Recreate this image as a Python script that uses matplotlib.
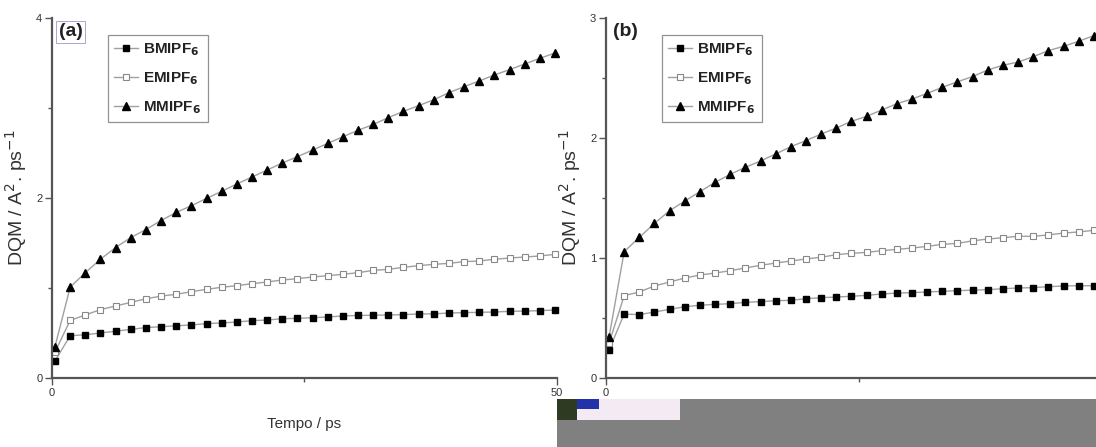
import numpy as np
import matplotlib.pyplot as plt
from matplotlib.patches import Rectangle

plt.rcParams['font.family'] = ['Liberation Sans', 'DejaVu Sans']

# time grid (ps), one point every 1.5 ps
tempo = 0.3 + 1.5 * np.arange(34)

# panel (a)
bm_a = [0.19, 0.47, 0.48, 0.50, 0.52, 0.54, 0.56, 0.57, 0.58, 0.59,
        0.604, 0.611, 0.622, 0.637, 0.644, 0.659, 0.663, 0.670, 0.678, 0.689,
        0.695, 0.697, 0.700, 0.704, 0.711, 0.713, 0.722, 0.726, 0.730, 0.733,
        0.741, 0.744, 0.748, 0.756]
em_a = [0.29, 0.64, 0.70, 0.76, 0.80, 0.84, 0.88, 0.91, 0.93, 0.959,
        0.985, 1.008, 1.026, 1.048, 1.067, 1.089, 1.104, 1.122, 1.137, 1.152,
        1.170, 1.196, 1.207, 1.230, 1.248, 1.263, 1.274, 1.293, 1.300, 1.319,
        1.333, 1.344, 1.356, 1.374]
mm_a = [0.35, 1.01, 1.17, 1.32, 1.45, 1.56, 1.65, 1.75, 1.84, 1.914,
        1.996, 2.074, 2.156, 2.233, 2.311, 2.389, 2.459, 2.533, 2.607, 2.681,
        2.752, 2.817, 2.893, 2.963, 3.026, 3.092, 3.170, 3.237, 3.300, 3.367,
        3.426, 3.489, 3.552, 3.611]

# panel (b)
bm_b = [0.233, 0.533, 0.528, 0.550, 0.572, 0.594, 0.606, 0.614, 0.619, 0.631,
        0.636, 0.644, 0.647, 0.661, 0.669, 0.675, 0.681, 0.689, 0.700, 0.708,
        0.711, 0.717, 0.722, 0.728, 0.732, 0.736, 0.744, 0.750, 0.753, 0.761,
        0.767, 0.769, 0.769, 0.775]
em_b = [0.289, 0.686, 0.717, 0.767, 0.800, 0.833, 0.858, 0.875, 0.894, 0.917,
        0.939, 0.958, 0.975, 0.992, 1.006, 1.028, 1.039, 1.047, 1.061, 1.072,
        1.083, 1.097, 1.114, 1.122, 1.143, 1.158, 1.169, 1.181, 1.181, 1.192,
        1.208, 1.217, 1.231, 1.240]
mm_b = [0.339, 1.053, 1.172, 1.289, 1.394, 1.475, 1.553, 1.631, 1.697, 1.756,
        1.808, 1.867, 1.928, 1.978, 2.033, 2.083, 2.139, 2.181, 2.233, 2.286,
        2.325, 2.372, 2.422, 2.469, 2.512, 2.567, 2.606, 2.633, 2.678, 2.728,
        2.764, 2.806, 2.853, 2.890]

nomes = ['BMIPF$_\\mathbf{6}$', 'EMIPF$_\\mathbf{6}$', 'MMIPF$_\\mathbf{6}$']
ylabel = 'DQM / A$^2$. ps$^{-1}$'

W, H = 1096, 447
fig = plt.figure(figsize=(W / 100, H / 100), dpi=100)


def px_axes(x0, x1, y0, y1):
    return fig.add_axes([x0 / W, 1 - y1 / H, (x1 - x0) / W, (y1 - y0) / H])


def painel(ax, series, ymax, yticks, yminor, xticks, letra, boxed):
    estilos = [dict(marker='s', mfc='black', mec='black', ms=4.5),
               dict(marker='s', mfc='white', mec='#888888', ms=4.5, mew=0.8),
               dict(marker='^', mfc='black', mec='black', ms=5.5)]
    for ys, nome, st in zip(series, nomes, estilos):
        ax.plot(tempo, ys, color='#a0a0a0', lw=1.0, label=nome, clip_on=False, **st)
    ax.set_xlim(0, 50)
    ax.set_ylim(0, ymax)
    for s in ('top', 'right'):
        ax.spines[s].set_visible(False)
    for s in ('left', 'bottom'):
        ax.spines[s].set_color('#555555')
        ax.spines[s].set_linewidth(1.6)
    ax.set_xticks(xticks)
    ax.set_xticks([25], minor=True)
    ax.set_yticks(yticks)
    ax.set_yticks(yminor, minor=True)
    ax.tick_params(which='both', direction='out', color='#555555', labelsize=8,
                   labelcolor='#333333', pad=2)
    ax.tick_params(which='major', length=5, width=1)
    ax.tick_params(which='minor', length=3, width=1)
    ax.set_ylabel(ylabel, fontsize=14, color='#333333', labelpad=5)
    bbox = dict(boxstyle='square,pad=0.12', fc='white', ec='#9999cc', lw=0.6) if boxed else None
    ax.text(0.013, 0.985, letra, transform=ax.transAxes, fontsize=14, fontweight='bold',
            va='top', ha='left', color='#222222', bbox=bbox)
    leg = ax.legend(loc='upper left', bbox_to_anchor=(0.11, 0.953), borderaxespad=0,
                    frameon=True, fancybox=False, edgecolor='#777777', handlelength=1.6,
                    handletextpad=0.35, borderpad=0.4, labelspacing=0.8,
                    prop=dict(size=11, weight='bold'))
    leg.get_frame().set_linewidth(0.9)
    for t in leg.get_texts():
        t.set_color('#222222')


ax_a = px_axes(52, 557, 18, 378)
painel(ax_a, [bm_a, em_a, mm_a], 4, [0, 2, 4], [1, 3], [0, 50], '(a)', True)
ax_a.set_xlabel('Tempo / ps', fontsize=11, color='#333333', labelpad=14)

# panel (b) runs past the right edge, so only its origin is labelled
ax_b = px_axes(606, 1111, 18, 378)
painel(ax_b, [bm_b, em_b, mm_b], 3, [0, 1, 2, 3], [0.5, 1.5, 2.5], [0], '(b)', False)

# grey block covering the lower right corner
fig.patches.append(Rectangle((557 / W, 0), (W - 557) / W, 48 / H,
                             transform=fig.transFigure, fc='#808080', ec='none', zorder=5))
fig.patches.append(Rectangle((557 / W, 27 / H), 123 / W, 21 / H,
                             transform=fig.transFigure, fc='#f4eaf4', ec='none', zorder=6))
fig.patches.append(Rectangle((557 / W, 27 / H), 20 / W, 21 / H,
                             transform=fig.transFigure, fc='#2e3a22', ec='none', zorder=7))
fig.patches.append(Rectangle((577 / W, 38 / H), 22 / W, 10 / H,
                             transform=fig.transFigure, fc='#2233aa', ec='none', zorder=7))

fig.savefig('out.png', dpi=100)
